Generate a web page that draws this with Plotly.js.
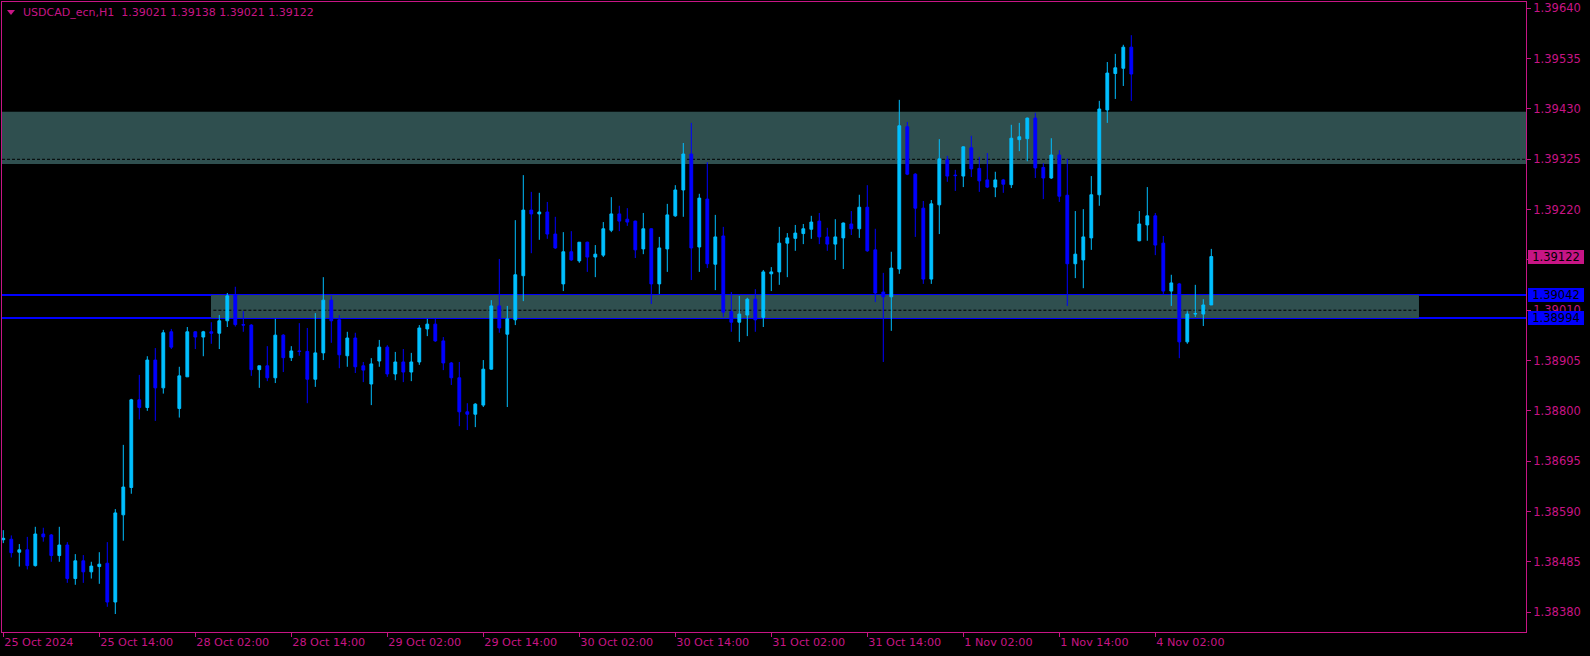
<!DOCTYPE html>
<html>
<head>
<meta charset="utf-8">
<script src="https://cdn.plot.ly/plotly-3.0.1.min.js"></script>
<style>
html,body{margin:0;padding:0;background:#000;}
#chart{width:1590px;height:656px;}
</style>
</head>
<body>
<div id="chart"></div>
<script>
// ---- DATA (USDCAD_ecn, H1) ----
const symbolTitle = "USDCAD_ecn,H1\u00A0 1.39021 1.39138 1.39021 1.39122";

const opens = [
1.38531,1.38532,1.38505,1.38510,1.38477,1.38543,1.38541,1.38498,1.38520,1.38450,
1.38487,1.38464,1.38475,1.38482,1.38401,1.38583,1.38640,1.38823,1.38807,1.38906,
1.38848,1.38965,1.38805,1.38871,1.38965,1.38954,1.38965,1.38962,1.38988,1.39042,
1.38980,1.38979,1.38886,1.38894,1.38869,1.38958,1.38911,1.38925,1.38924,1.38866,
1.38921,1.39031,1.38990,1.38915,1.38952,1.38894,1.38856,1.38904,1.38933,1.38877,
1.38902,1.38881,1.38902,1.38971,1.38981,1.38946,1.38900,1.38869,1.38798,1.38793,
1.38812,1.38887,1.39019,1.38960,1.38990,1.39082,1.39219,1.39211,1.39215,1.39169,
1.39065,1.39132,1.39113,1.39152,1.39121,1.39125,1.39177,1.39211,1.39200,1.39196,
1.39138,1.39180,1.39065,1.39138,1.39207,1.39261,1.39336,1.39142,1.39242,1.39106,
1.39165,1.39007,1.38985,1.39000,1.39033,1.38995,1.39086,1.39090,1.39150,1.39160,
1.39170,1.39179,1.39196,1.39163,1.39148,1.39161,1.39190,1.39180,1.39225,1.39136,
1.39048,1.39038,1.39096,1.39393,1.39294,1.39223,1.39075,1.39230,1.39324,1.39292,
1.39290,1.39349,1.39306,1.39282,1.39267,1.39282,1.39272,1.39366,1.39368,1.39411,
1.39308,1.39286,1.39334,1.39250,1.39107,1.39115,1.39161,1.39251,1.39428,1.39504,
1.39515,1.39559,1.39155,1.39188,1.39207,1.39150,1.39050,1.39065,1.38944,1.39002,
1.39002,1.39021];

const highs = [
1.38551,1.38540,1.38522,1.38537,1.38558,1.38556,1.38543,1.38558,1.38526,1.38501,
1.38499,1.38485,1.38505,1.38526,1.38595,1.38729,1.38825,1.38875,1.38914,1.38931,
1.38969,1.38971,1.38892,1.38975,1.38966,1.38967,1.38985,1.39000,1.39046,1.39059,
1.39008,1.38981,1.38894,1.38935,1.38992,1.38960,1.38935,1.38983,1.38973,1.39004,
1.39079,1.39040,1.39000,1.38965,1.38963,1.38902,1.38910,1.38948,1.38937,1.38923,
1.38929,1.38921,1.38979,1.38992,1.38992,1.38954,1.38902,1.38902,1.38816,1.38816,
1.38906,1.39031,1.39117,1.39019,1.39198,1.39292,1.39257,1.39255,1.39236,1.39205,
1.39173,1.39175,1.39152,1.39153,1.39146,1.39194,1.39246,1.39228,1.39223,1.39197,
1.39213,1.39181,1.39163,1.39232,1.39271,1.39359,1.39401,1.39253,1.39319,1.39209,
1.39184,1.39048,1.39040,1.39036,1.39054,1.39094,1.39100,1.39184,1.39171,1.39188,
1.39190,1.39207,1.39213,1.39182,1.39200,1.39193,1.39217,1.39251,1.39271,1.39180,
1.39088,1.39132,1.39449,1.39403,1.39296,1.39238,1.39240,1.39367,1.39332,1.39303,
1.39352,1.39374,1.39330,1.39338,1.39299,1.39284,1.39397,1.39401,1.39412,1.39422,
1.39317,1.39369,1.39344,1.39326,1.39217,1.39221,1.39290,1.39447,1.39528,1.39545,
1.39564,1.39584,1.39217,1.39267,1.39213,1.39165,1.39084,1.39067,1.39008,1.39063,
1.39033,1.39138];

const lows = [
1.38524,1.38494,1.38475,1.38469,1.38475,1.38527,1.38485,1.38485,1.38441,1.38437,
1.38441,1.38450,1.38439,1.38391,1.38376,1.38529,1.38627,1.38782,1.38800,1.38779,
1.38836,1.38929,1.38786,1.38871,1.38929,1.38914,1.38940,1.38929,1.38975,1.38976,
1.38965,1.38873,1.38848,1.38862,1.38858,1.38881,1.38904,1.38915,1.38816,1.38850,
1.38906,1.38942,1.38889,1.38892,1.38879,1.38860,1.38812,1.38892,1.38871,1.38864,
1.38860,1.38862,1.38896,1.38956,1.38944,1.38885,1.38854,1.38768,1.38760,1.38766,
1.38808,1.38886,1.38963,1.38808,1.38979,1.39029,1.39129,1.39157,1.39159,1.39138,
1.39050,1.39113,1.39109,1.39090,1.39079,1.39121,1.39173,1.39175,1.39186,1.39119,
1.39127,1.39023,1.39044,1.39090,1.39205,1.39205,1.39073,1.39090,1.39098,1.39052,
1.38996,1.38965,1.38944,1.38956,1.38965,1.38975,1.39050,1.39063,1.39079,1.39134,
1.39148,1.39159,1.39148,1.39134,1.39115,1.39096,1.39167,1.39161,1.39132,1.39027,
1.38902,1.38967,1.39086,1.39292,1.39163,1.39065,1.39065,1.39169,1.39278,1.39259,
1.39267,1.39288,1.39257,1.39265,1.39246,1.39255,1.39265,1.39342,1.39321,1.39286,
1.39242,1.39284,1.39236,1.39019,1.39077,1.39056,1.39136,1.39228,1.39401,1.39451,
1.39478,1.39447,1.39154,1.39155,1.39125,1.39044,1.39019,1.38910,1.38940,1.38996,
1.38977,1.39021];

const closes = [
1.38534,1.38504,1.38510,1.38477,1.38543,1.38537,1.38498,1.38520,1.38450,1.38487,
1.38464,1.38476,1.38480,1.38401,1.38587,1.38641,1.38823,1.38807,1.38906,1.38848,
1.38963,1.38933,1.38873,1.38965,1.38954,1.38965,1.38962,1.38988,1.39040,1.38980,
1.38979,1.38886,1.38894,1.38869,1.38958,1.38911,1.38925,1.38924,1.38866,1.38921,
1.39031,1.38988,1.38917,1.38952,1.38892,1.38885,1.38898,1.38933,1.38877,1.38902,
1.38881,1.38902,1.38973,1.38981,1.38946,1.38900,1.38869,1.38798,1.38793,1.38814,
1.38887,1.39019,1.38973,1.38992,1.39084,1.39219,1.39211,1.39215,1.39169,1.39140,
1.39132,1.39115,1.39152,1.39121,1.39127,1.39180,1.39211,1.39196,1.39194,1.39136,
1.39180,1.39065,1.39140,1.39209,1.39261,1.39336,1.39140,1.39244,1.39107,1.39163,
1.39006,1.38985,1.39002,1.39033,1.38990,1.39090,1.39090,1.39150,1.39161,1.39171,
1.39180,1.39194,1.39163,1.39148,1.39163,1.39192,1.39180,1.39225,1.39134,1.39046,
1.39038,1.39098,1.39395,1.39294,1.39223,1.39075,1.39232,1.39326,1.39290,1.39291,
1.39351,1.39305,1.39280,1.39267,1.39282,1.39273,1.39369,1.39372,1.39411,1.39307,
1.39286,1.39334,1.39248,1.39107,1.39127,1.39163,1.39251,1.39430,1.39505,1.39516,
1.39559,1.39503,1.39190,1.39207,1.39146,1.39050,1.39067,1.38944,1.39002,1.39003,
1.39021,1.39122];

// time-axis labels (bar index -> label)
const timeTickBars = [0,12,24,36,48,60,72,84,96,108,120,132,144];
const timeTickLabels = ["25 Oct 2024","25 Oct 14:00","28 Oct 02:00","28 Oct 14:00","29 Oct 02:00",
  "29 Oct 14:00","30 Oct 02:00","30 Oct 14:00","31 Oct 02:00","31 Oct 14:00",
  "1 Nov 02:00","1 Nov 14:00","4 Nov 02:00"];

// price-axis labels
const priceTicks = [1.38380,1.38485,1.38590,1.38695,1.38800,1.38905,1.39010,1.39115,1.39220,1.39325,1.39430,1.39535,1.39640];

// horizontal objects
const upperZone = {low:1.39315, high:1.39424, mid:1.39325};
const lowerZone = {startBar:25.96, endBar:176.96, low:1.38994, high:1.39042, mid:1.39010};
const hLines = [1.39042, 1.38994];
const lastPrice = 1.39122;

// ---- STYLE ----
const PINK = "#C71585";
const BULL = "#00BFFF";
const BEAR = "#0000FF";
const ZONE = "#2F4F4F";
const FONT = "DejaVu Sans";

const xs = opens.map((_, i) => i);

const trace = {
  type: "candlestick",
  x: xs, open: opens, high: highs, low: lows, close: closes,
  increasing: {line: {color: BULL, width: 1}, fillcolor: BULL},
  decreasing: {line: {color: BEAR, width: 1}, fillcolor: BEAR},
  whiskerwidth: 0,
  hoverinfo: "skip",
  showlegend: false
};

const shapes = [
  {type:"rect", xref:"paper", yref:"y", x0:0, x1:1, y0:upperZone.low, y1:upperZone.high,
   fillcolor:ZONE, line:{width:0}, layer:"below"},
  {type:"line", xref:"paper", yref:"y", x0:0, x1:1, y0:upperZone.mid, y1:upperZone.mid,
   line:{color:"#000", width:1, dash:"3px,2px"}, layer:"below"},
  {type:"rect", xref:"x", yref:"y", x0:lowerZone.startBar, x1:lowerZone.endBar, y0:lowerZone.low, y1:lowerZone.high,
   fillcolor:ZONE, line:{width:0}, layer:"below"},
  {type:"line", xref:"x", yref:"y", x0:lowerZone.startBar+0.3, x1:lowerZone.endBar-0.2, y0:lowerZone.mid, y1:lowerZone.mid,
   line:{color:"#000", width:1, dash:"3px,2px"}, layer:"below"}
];
hLines.forEach(v => shapes.push({type:"line", xref:"paper", yref:"y", x0:0, x1:1, y0:v, y1:v,
   line:{color:BEAR, width:2}, layer:"below"}));
// header triangle marker
shapes.push({type:"path", xref:"paper", yref:"paper",
  path:"M 0.00328 0.9873 L 0.00853 0.9873 L 0.0059 0.97937 Z",
  fillcolor:PINK, line:{width:0}, layer:"above"});

function priceBox(v, bg) {
  return {xref:"paper", x:1, xanchor:"left", xshift:2, yref:"y", y:v, yanchor:"middle",
    text:v.toFixed(5), showarrow:false, bgcolor:bg, borderpad:0, borderwidth:0,
    width:56, height:14, align:"center", font:{family:FONT, size:11.5, color:"#000"}};
}

const annotations = [
  {xref:"paper", yref:"paper", x:0.01247, y:0.9830, xanchor:"left", yanchor:"middle",
   text:symbolTitle, showarrow:false, font:{family:FONT, size:11, color:PINK}},
  priceBox(lastPrice, PINK),
  priceBox(hLines[0], BEAR),
  priceBox(hLines[1], BEAR)
];

const layout = {
  width:1590, height:656,
  margin:{l:2, r:64, t:2, b:24, pad:0},
  paper_bgcolor:"#000", plot_bgcolor:"#000",
  showlegend:false,
  boxgap:0.5,
  xaxis:{
    range:[-0.1625, 190.3375], autorange:false, fixedrange:true,
    rangeslider:{visible:false},
    showgrid:false, zeroline:false,
    showline:true, mirror:true, linecolor:PINK, linewidth:1,
    ticks:"outside", ticklen:4, tickcolor:PINK, tickwidth:1,
    tickmode:"array", tickvals:timeTickBars, ticktext:timeTickLabels,
    ticklabelposition:"outside right",
    tickfont:{family:FONT, size:11.2, color:PINK}
  },
  yaxis:{
    side:"right",
    range:[1.3833845, 1.396533], autorange:false, fixedrange:true,
    showgrid:false, zeroline:false,
    showline:true, mirror:true, linecolor:PINK, linewidth:1,
    ticks:"outside", ticklen:4, tickcolor:PINK, tickwidth:1,
    tickmode:"array", tickvals:priceTicks, ticktext:priceTicks.map(v => v.toFixed(5)),
    tickfont:{family:FONT, size:11.5, color:PINK}
  },
  shapes:shapes,
  annotations:annotations
};

Plotly.newPlot("chart", [trace], layout, {staticPlot:true, displayModeBar:false});
</script>
</body>
</html>
